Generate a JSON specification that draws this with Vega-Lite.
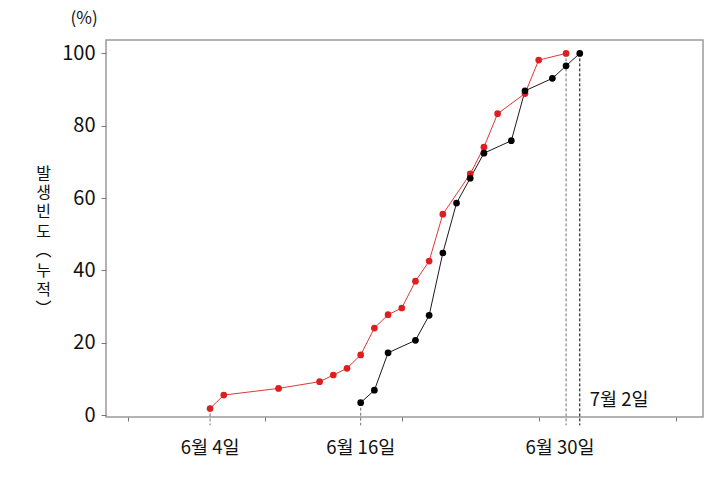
{
  "$schema": "https://vega.github.io/schema/vega-lite/v6.json",
  "width": 597,
  "height": 377,
  "autosize": {"type": "none"},
  "padding": {"left": 106, "top": 40, "right": 20, "bottom": 62},
  "background": "white",
  "config": {
    "view": {"stroke": "#9a9a9a", "strokeWidth": 1.5},
    "font": "Noto Sans CJK KR",
    "axis": {"grid": false}
  },
  "datasets": {
    "cum": [
      {"year": "2024", "day": 156, "pct": 1.85},
      {"year": "2024", "day": 157, "pct": 5.56},
      {"year": "2024", "day": 161, "pct": 7.41},
      {"year": "2024", "day": 164, "pct": 9.26},
      {"year": "2024", "day": 165, "pct": 11.11},
      {"year": "2024", "day": 166, "pct": 12.96},
      {"year": "2024", "day": 167, "pct": 16.67},
      {"year": "2024", "day": 168, "pct": 24.07},
      {"year": "2024", "day": 169, "pct": 27.78},
      {"year": "2024", "day": 170, "pct": 29.63},
      {"year": "2024", "day": 171, "pct": 37.04},
      {"year": "2024", "day": 172, "pct": 42.59},
      {"year": "2024", "day": 173, "pct": 55.56},
      {"year": "2024", "day": 175, "pct": 66.67},
      {"year": "2024", "day": 176, "pct": 74.07},
      {"year": "2024", "day": 177, "pct": 83.33},
      {"year": "2024", "day": 179, "pct": 88.89},
      {"year": "2024", "day": 180, "pct": 98.15},
      {"year": "2024", "day": 182, "pct": 100},
      {"year": "2023", "day": 167, "pct": 3.45},
      {"year": "2023", "day": 168, "pct": 6.9},
      {"year": "2023", "day": 169, "pct": 17.24},
      {"year": "2023", "day": 171, "pct": 20.69},
      {"year": "2023", "day": 172, "pct": 27.59},
      {"year": "2023", "day": 173, "pct": 44.83},
      {"year": "2023", "day": 174, "pct": 58.62},
      {"year": "2023", "day": 175, "pct": 65.52},
      {"year": "2023", "day": 176, "pct": 72.41},
      {"year": "2023", "day": 178, "pct": 75.86},
      {"year": "2023", "day": 179, "pct": 89.66},
      {"year": "2023", "day": 181, "pct": 93.1},
      {"year": "2023", "day": 182, "pct": 96.55},
      {"year": "2023", "day": 183, "pct": 100}
    ],
    "dates": [
      {"day": 156, "label": "6월 4일"},
      {"day": 167, "label": "6월 16일"}
    ],
    "dateEnd": [
      {"day": 182, "label": "6월 30일"}
    ],
    "dateEnd2": [
      {"day": 183, "label": "7월 2일"}
    ]
  },
  "layer": [
    {
      "data": {"name": "cum"},
      "transform": [
        {"filter": "(datum.year=='2024' && (datum.day==156 || datum.day==182)) || (datum.year=='2023' && (datum.day==167 || datum.day==183))"}
      ],
      "mark": {"type": "rule", "strokeDash": [3, 2], "strokeWidth": 1},
      "encoding": {
        "x": {"field": "day", "type": "quantitative", "scale": {"domain": [148.4, 192], "nice": false, "zero": false},
          "axis": {"values": [150, 160, 170, 180, 190], "labels": false, "title": null, "tickSize": 4, "tickColor": "#777", "domain": false}},
        "y": {"field": "pct", "type": "quantitative", "scale": {"domain": [-0.5, 103.7], "nice": false, "zero": false},
          "axis": {"values": [0, 20, 40, 60, 80, 100], "title": ["발", "생", "빈", "도", "︵", "누", "적", "︶"], "titleAngle": 0, "titleFontSize": 16, "titleLineHeight": 19.4, "titleFontWeight": "normal", "titleX": -63, "titleY": 133, "titleAlign": "center", "titleBaseline": "middle", "titleColor": "#111", "labelFontSize": 20, "labelColor": "#111", "tickColor": "#777", "tickSize": 5, "labelPadding": 6, "domain": false}},
        "y2": {"datum": -2.8},
        "stroke": {"condition": {"test": "datum.day==183", "value": "#000000"}, "value": "#707070"}
      }
    },
    {
      "data": {"name": "cum"},
      "mark": {"type": "line", "strokeWidth": 0.9},
      "encoding": {
        "x": {"field": "day", "type": "quantitative"},
        "y": {"field": "pct", "type": "quantitative"},
        "order": {"field": "day"},
        "color": {"field": "year", "type": "nominal", "legend": null}
      }
    },
    {
      "data": {"name": "cum"},
      "mark": {"type": "point", "filled": true, "opacity": 1, "size": 45},
      "encoding": {
        "x": {"field": "day", "type": "quantitative"},
        "y": {"field": "pct", "type": "quantitative"},
        "color": {"field": "year", "type": "nominal",
          "scale": {"domain": ["2023", "2024"], "range": ["#000000", "#dd1f1f"]},
          "legend": {"orient": "top-left", "offset": 0, "title": null, "symbolType": "circle", "symbolSize": 25, "labelFontSize": 13, "labelFont": "Liberation Sans", "labelColor": "#111", "padding": 6, "strokeColor": "#888", "fillColor": "white", "rowPadding": 3, "labelOffset": 7, "symbolStrokeWidth": 0}}
      }
    },
    {
      "data": {"name": "dates"},
      "mark": {"type": "text", "fontSize": 18.5, "color": "#111", "baseline": "middle", "align": "center"},
      "encoding": {
        "x": {"field": "day", "type": "quantitative"},
        "y": {"datum": -9.1},
        "text": {"field": "label"}
      }
    },
    {
      "data": {"name": "dateEnd"},
      "mark": {"type": "text", "fontSize": 18.5, "color": "#111", "baseline": "middle", "align": "center", "dx": -6},
      "encoding": {
        "x": {"field": "day", "type": "quantitative"},
        "y": {"datum": -9.1},
        "text": {"field": "label"}
      }
    },
    {
      "data": {"name": "dateEnd2"},
      "mark": {"type": "text", "fontSize": 18.5, "color": "#111", "baseline": "middle", "align": "left", "dx": 10},
      "encoding": {
        "x": {"field": "day", "type": "quantitative"},
        "y": {"datum": 4.1},
        "text": {"field": "label"}
      }
    },
    {
      "data": {"values": [{"unit": "(%)"}]},
      "mark": {"type": "text", "fontSize": 17, "color": "#111", "baseline": "middle", "align": "center"},
      "encoding": {
        "x": {"datum": 146.8},
        "y": {"datum": 109.5},
        "text": {"field": "unit"}
      }
    }
  ]
}
